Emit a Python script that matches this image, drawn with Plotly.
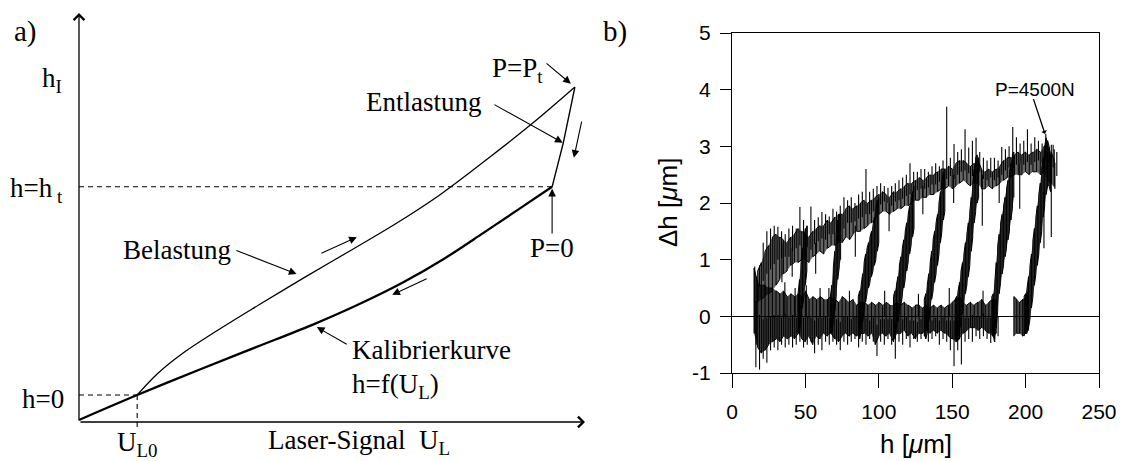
import plotly.graph_objects as go

W, H = 1121, 461

# ---------------- panel a: schematic calibration loop (arbitrary units) ----------------
kal_u = [0.0, 1.15, 2.4, 3.5, 4.6, 5.5, 6.4, 7.2, 8.0, 8.7, 9.35]            # Kalibrierkurve
kal_h = [0.05, 0.66, 1.29, 1.83, 2.37, 2.86, 3.41, 3.98, 4.63, 5.21, 5.75]
bel_u = [1.15, 1.55, 2.05, 2.75, 3.55, 4.45, 5.35, 6.25, 7.15, 8.05, 8.95, 9.80]  # Belastung
bel_h = [0.66, 1.18, 1.68, 2.25, 2.86, 3.53, 4.18, 4.84, 5.57, 6.41, 7.29, 8.19]
ent_u = [9.80, 9.57, 9.35]                                                    # Entlastung
ent_h = [8.19, 6.82, 5.75]

u_l0, h_0 = kal_u[1], kal_h[1]
u_t, h_t = kal_u[-1], kal_h[-1]

# ---------------- panel b: measured deviation dh vs h ----------------
# lower branch (dh ~ 0): band limits every 2.5 um, plus downward noise peaks
base_h = [15 + 2.5 * i for i in range(67)]
base_lo = [-0.3, -0.55, -0.65, -0.6, -0.5, -0.45, -0.4, -0.45, -0.35, -0.4,
           -0.35, -0.4, -0.3, -0.4, -0.45, -0.35, -0.5, -0.35, -0.4, -0.3,
           -0.35, -0.3, -0.4, -0.45, -0.35, -0.3, -0.35, -0.3, -0.35, -0.3,
           -0.3, -0.35, -0.3, -0.5, -0.35, -0.3, -0.35, -0.3, -0.45, -0.3,
           -0.3, -0.25, -0.35, -0.3, -0.4, -0.3, -0.3, -0.25, -0.3, -0.25,
           -0.3, -0.25, -0.3, -0.35, -0.4, -0.45, -0.4, -0.3, -0.25, -0.2,
           -0.2, -0.25, -0.2, -0.25, -0.3, -0.35, -0.3]
base_hi = [0.85, 0.6, 0.55, 0.55, 0.5, 0.5, 0.45, 0.4, 0.45, 0.35,
           0.4, 0.35, 0.4, 0.35, 0.45, 0.3, 0.35, 0.3, 0.35, 0.3,
           0.3, 0.35, 0.3, 0.25, 0.35, 0.3, 0.25, 0.3, 0.2, 0.25,
           0.25, 0.2, 0.25, 0.2, 0.25, 0.2, 0.25, 0.2, 0.2, 0.25,
           0.2, 0.25, 0.2, 0.15, 0.2, 0.2, 0.15, 0.2, 0.15, 0.2,
           0.15, 0.2, 0.15, 0.2, 0.25, 0.3, 0.35, 0.25, 0.2, 0.25,
           0.2, 0.25, 0.3, 0.2, 0.25, 0.3, 0.3]
base_pk = [-0.9, -0.94, -0.75, -0.82, -0.6, -0.55, -0.6, -0.5, -0.55, -0.5,
           -0.55, -0.5, -0.45, -0.55, -0.5, -0.45, -0.65, -0.5, -0.6, -0.45,
           -0.5, -0.45, -0.5, -0.6, -0.45, -0.5, -0.45, -0.4, -0.55, -0.45,
           -0.5, -0.4, -0.45, -0.7, -0.45, -0.5, -0.4, -0.5, -0.75, -0.45,
           -0.5, -0.4, -0.55, -0.4, -0.45, -0.4, -0.35, -0.45, -0.4, -0.35,
           -0.5, -0.4, -0.45, -0.6, -0.88, -0.6, -0.85, -0.45, -0.4, -0.45,
           -0.35, -0.4, -0.35, -0.4, -0.47, -0.45, -0.35]

foot_h = [192, 194, 196, 198, 200, 202]
foot_lo = [-0.35, -0.3, -0.3, -0.35, -0.3, -0.25]
foot_hi = [0.35, 0.3, 0.25, 0.3, 0.35, 0.45]

# upper branch (loading): band limits every 2.5 um, plus upward noise peaks
top_h = [17.5 + 2.5 * i for i in range(82)]
top_lo = [0.25, 0.3, 0.35, 0.4, 0.45, 0.55, 0.65, 0.75, 0.8, 0.9,
          0.95, 0.95, 1.0, 1.0, 0.95, 1.05, 1.1, 1.15, 1.1, 1.2,
          1.25, 1.25, 1.3, 1.3, 1.4, 1.35, 1.45, 1.5, 1.5, 1.55,
          1.6, 1.65, 1.7, 1.8, 1.85, 1.85, 1.8, 1.85, 1.9, 1.9,
          1.95, 1.95, 2.0, 2.05, 2.05, 2.1, 2.1, 2.15, 2.15, 2.2,
          2.25, 2.25, 2.3, 2.25, 2.3, 2.35, 2.4, 2.35, 2.3, 2.35,
          2.35, 2.25, 2.25, 2.3, 2.25, 2.3, 2.35, 2.4, 2.45, 2.45,
          2.5, 2.5, 2.5, 2.55, 2.5, 2.55, 2.55, 2.5, 2.55, 2.4,
          2.35, 2.25]
top_hi = [0.8, 0.95, 1.15, 1.25, 1.4, 1.45, 1.4, 1.35, 1.3, 1.4,
          1.45, 1.55, 1.5, 1.45, 1.4, 1.5, 1.55, 1.6, 1.6, 1.7,
          1.65, 1.75, 1.8, 1.8, 1.9, 1.95, 1.9, 1.95, 2.0, 2.05,
          2.0, 2.05, 2.1, 2.15, 2.2, 2.15, 2.1, 2.2, 2.2, 2.25,
          2.3, 2.35, 2.35, 2.4, 2.45, 2.4, 2.45, 2.5, 2.5, 2.55,
          2.6, 2.6, 2.65, 2.6, 2.7, 2.75, 2.75, 2.7, 2.65, 2.7,
          2.75, 2.6, 2.55, 2.6, 2.55, 2.6, 2.65, 2.75, 2.8, 2.8,
          2.85, 2.9, 2.85, 2.9, 2.85, 2.9, 2.95, 2.9, 3.0, 3.0,
          2.9, 2.7]
top_pk = [0.9, 1.3, 1.5, 1.55, 1.6, 1.58, 1.5, 1.45, 1.55, 1.6,
          1.55, 1.93, 1.7, 1.6, 1.94, 1.7, 1.75, 1.84, 1.8, 1.76,
          1.9, 1.85, 1.95, 2.1, 2.05, 2.1, 2.0, 2.15, 2.2, 2.6,
          2.2, 2.25, 2.3, 2.35, 2.3, 2.27, 2.3, 2.35, 2.4, 2.45,
          2.5, 2.7, 2.55, 2.55, 2.6, 2.6, 2.55, 2.65, 2.7, 2.65,
          2.75, 3.7, 2.8, 3.04, 2.9, 2.95, 3.3, 2.98, 3.1, 3.15,
          2.9, 2.8, 2.75, 2.8, 2.8, 2.75, 2.99, 2.95, 3.0, 3.34,
          3.16, 3.05, 3.1, 3.3, 3.05, 3.16, 3.1, 3.05, 3.22, 2.98,
          3.03, 2.9]

# unloading branches (steep flanks), h in um with dh band limits
br_h = {
    "A": [199, 200, 201, 202, 203, 204, 205, 206, 207, 208, 209, 210, 211, 212, 213, 214, 215, 216, 217],
    "B": [177, 178, 179, 180, 181, 182, 183, 184, 185, 186, 187, 188, 189, 190, 191, 192],
    "C": [152, 153, 154, 155, 156, 157, 158, 159, 160, 161, 162, 163, 164, 165, 166, 167, 168],
    "D": [131, 132, 133, 134, 135, 136, 137, 138, 139, 140, 141, 142, 143, 144, 145],
    "E": [110, 111, 112, 113, 114, 115, 116, 117, 118, 119, 120, 121, 122, 123, 124],
    "F": [86, 87, 88, 89, 90, 91, 92, 93, 94, 95, 96, 97, 98, 99, 100],
    "G": [67, 68, 69, 70, 71, 72, 73, 74],
    "H": [45, 46, 47, 48, 49, 50, 51],
}
br_lo = {
    "A": [-0.35, -0.3, -0.3, -0.2, -0.05, 0.15, 0.35, 0.55, 0.75, 0.9, 1.1, 1.3, 1.5, 1.75, 1.95, 2.15, 2.3, 2.3, 2.2],
    "B": [-0.3, -0.35, -0.45, -0.2, 0.1, 0.4, 0.6, 0.75, 0.9, 1.05, 1.2, 1.35, 1.5, 1.7, 1.9, 2.1],
    "C": [-0.4, -0.45, -0.4, -0.25, -0.1, 0.05, 0.25, 0.4, 0.55, 0.7, 0.9, 1.15, 1.4, 1.65, 1.85, 2.0, 2.1],
    "D": [-0.35, -0.4, -0.3, -0.1, 0.1, 0.3, 0.45, 0.6, 0.75, 0.9, 1.1, 1.3, 1.5, 1.7, 1.85],
    "E": [-0.35, -0.4, -0.25, -0.1, 0.05, 0.2, 0.35, 0.5, 0.65, 0.8, 0.95, 1.1, 1.25, 1.4, 1.55],
    "F": [-0.35, -0.4, -0.25, -0.1, 0.1, 0.25, 0.4, 0.5, 0.6, 0.7, 0.8, 0.9, 1.0, 1.15, 1.3],
    "G": [-0.3, -0.3, -0.1, 0.1, 0.35, 0.65, 0.85, 1.0],
    "H": [-0.3, -0.3, -0.05, 0.15, 0.35, 0.55, 0.8],
}
br_hi = {
    "A": [0.35, 0.4, 0.5, 0.7, 0.9, 1.1, 1.35, 1.55, 1.75, 1.95, 2.15, 2.35, 2.6, 2.8, 3.0, 3.15, 3.1, 3.0, 2.85],
    "B": [0.35, 0.4, 0.6, 0.95, 1.25, 1.45, 1.65, 1.8, 1.95, 2.1, 2.25, 2.4, 2.55, 2.7, 2.85, 2.9],
    "C": [0.3, 0.35, 0.45, 0.6, 0.8, 0.95, 1.1, 1.3, 1.45, 1.65, 1.85, 2.1, 2.35, 2.6, 2.8, 2.85, 2.8],
    "D": [0.3, 0.4, 0.55, 0.75, 0.95, 1.15, 1.35, 1.5, 1.65, 1.8, 2.0, 2.2, 2.4, 2.55, 2.6],
    "E": [0.35, 0.45, 0.55, 0.7, 0.9, 1.05, 1.2, 1.35, 1.5, 1.65, 1.8, 1.95, 2.1, 2.2, 2.3],
    "F": [0.35, 0.45, 0.55, 0.75, 0.95, 1.1, 1.2, 1.3, 1.4, 1.5, 1.6, 1.75, 1.9, 2.05, 2.1],
    "G": [0.35, 0.55, 0.85, 1.15, 1.45, 1.7, 1.8, 1.8],
    "H": [0.4, 0.65, 0.95, 1.2, 1.4, 1.55, 1.6],
}

# further isolated strokes: (h, dh_low, dh_high)
strokes = [
    (15.5, -0.3, 0.88), (16.5, -0.5, 0.7),
    (36, 0.0, 0.6), (43, 0.0, 0.5), (50.6, 0.0, 0.55), (60, 0.0, 0.5), (66, 0.0, 0.5),
    (80, 0.0, 0.45), (104, 0.0, 0.45), (127, 0.0, 0.4), (148, 0.0, 0.5), (171, 0.0, 0.45),
    (34, 0.6, 1.3), (41, 0.7, 1.2), (57, 0.75, 1.3), (84, 1.05, 1.6), (107, 1.5, 2.0),
    (130, 1.8, 2.3), (151, 2.0, 2.5), (170.5, 1.6, 2.5), (182, 2.0, 2.6), (196, 1.9, 2.7),
    (217.5, 1.4, 3.03), (219.5, 2.3, 2.95), (212.5, 1.2, 2.2),
]

peak_h, peak_dh = 213.2, 3.22   # P = 4500 N

x_ticks = [0, 50, 100, 150, 200, 250]
y_ticks = [-1, 0, 1, 2, 3, 4, 5]
y_ticktext = ["-1", "0", "1", "2", "3", "4", "5"]

# ---------------- figure ----------------
fig = go.Figure()
INK = "black"


def band(h, lo, hi, fillcol="rgba(0,0,0,0.65)", width=1.0):
    fig.add_trace(go.Scatter(x=list(h) + list(h)[::-1], y=list(lo) + list(hi)[::-1],
                             fill="toself", fillcolor=fillcol, mode="none",
                             xaxis="x", yaxis="y", hoverinfo="skip"))
    xs, ys = [], []
    for i, (x, a, b) in enumerate(zip(h, lo, hi)):
        xs += [x, x]
        ys += [a, b] if i % 2 == 0 else [b, a]
    fig.add_trace(go.Scatter(x=xs, y=ys, mode="lines", line=dict(color=INK, width=width),
                             xaxis="x", yaxis="y", hoverinfo="skip"))


def peaks(h, lo, hi, pk, shift=1.25, width=1.1):
    xs, ys = [], []
    for x, a, b, p in zip(h, lo, hi, pk):
        xs += [x + shift, x + shift, None]
        ys += [0.5 * (a + b), p, None]
    fig.add_trace(go.Scatter(x=xs, y=ys, mode="lines", line=dict(color=INK, width=width),
                             xaxis="x", yaxis="y", hoverinfo="skip"))


band(base_h, base_lo, base_hi, fillcol="rgba(0,0,0,0.72)")
peaks(base_h, base_lo, base_hi, base_pk)
band(foot_h, foot_lo, foot_hi, fillcol="rgba(0,0,0,0.72)")
band(top_h, top_lo, top_hi, fillcol="rgba(0,0,0,0.6)")
peaks(top_h, top_lo, top_hi, top_pk)
for k in br_h:
    band(br_h[k], br_lo[k], br_hi[k], fillcol="rgba(0,0,0,0.75)")

sx, sy = [], []
for h, a, b in strokes:
    sx += [h, h, None]
    sy += [a, b, None]
fig.add_trace(go.Scatter(x=sx, y=sy, mode="lines", line=dict(color=INK, width=1.1),
                         xaxis="x", yaxis="y", hoverinfo="skip"))

# panel a curves
fig.add_trace(go.Scatter(x=kal_u, y=kal_h, mode="lines",
                         line=dict(color=INK, width=2.3, shape="spline", smoothing=1.0),
                         xaxis="x2", yaxis="y2", hoverinfo="skip"))
fig.add_trace(go.Scatter(x=bel_u, y=bel_h, mode="lines",
                         line=dict(color=INK, width=1.3, shape="spline", smoothing=1.0),
                         xaxis="x2", yaxis="y2", hoverinfo="skip"))
fig.add_trace(go.Scatter(x=ent_u, y=ent_h, mode="lines", line=dict(color=INK, width=1.4),
                         xaxis="x2", yaxis="y2", hoverinfo="skip"))
# dashed reference lines
dash = dict(color=INK, width=1.1, dash="5px,4px")
fig.add_trace(go.Scatter(x=[0, u_t], y=[h_t, h_t], mode="lines", line=dash, xaxis="x2", yaxis="y2", hoverinfo="skip"))
fig.add_trace(go.Scatter(x=[0, u_l0], y=[h_0, h_0], mode="lines", line=dash, xaxis="x2", yaxis="y2", hoverinfo="skip"))
fig.add_trace(go.Scatter(x=[u_l0, u_l0], y=[h_0, -0.2], mode="lines", line=dash, xaxis="x2", yaxis="y2", hoverinfo="skip"))

# ---------------- axes ----------------
# panel a: 10 units span these pixel positions
AX0, AX10 = 79, 585      # U = 0 and U = 10
AY0, AY10 = 422, 13      # h = 0 and h = 10
sx_a = (AX10 - AX0) / 10.0
sy_a = (AY0 - AY10) / 10.0
xr_a = [-0.2, 10.2]
yr_a = [-0.5, 10.2]
xa_dom = [(AX0 + xr_a[0] * sx_a) / W, (AX0 + xr_a[1] * sx_a) / W]
ya_dom = [1 - (AY0 - yr_a[0] * sy_a) / H, 1 - (AY0 - yr_a[1] * sy_a) / H]

# panel b pixel box
BX0, BX1, BY0, BY1 = 732, 1099, 373, 33

sans = "Liberation Sans, Arial, sans-serif"
serif = "Liberation Serif, Times New Roman, serif"

fig.update_layout(
    template="none",
    width=W, height=H, margin=dict(l=0, r=0, t=0, b=0, pad=0, autoexpand=False),
    paper_bgcolor="white", plot_bgcolor="white", showlegend=False,
    xaxis=dict(domain=[BX0 / W, BX1 / W], range=[0, 250], anchor="y", automargin=False,
               showline=True, mirror=True, linecolor=INK, linewidth=1.4,
               ticks="outside", ticklen=14, tickwidth=1.4, tickcolor=INK,
               tickvals=x_ticks, showgrid=False, zeroline=False,
               tickfont=dict(family=sans, size=21, color=INK), ticklabelstandoff=6),
    yaxis=dict(domain=[1 - BY0 / H, 1 - BY1 / H], range=[-1, 5], anchor="x", automargin=False,
               showline=True, mirror=True, linecolor=INK, linewidth=1.4,
               ticks="outside", ticklen=11, tickwidth=1.4, tickcolor=INK,
               tickvals=y_ticks, ticktext=y_ticktext, showgrid=False,
               zeroline=True, zerolinecolor=INK, zerolinewidth=1.1,
               tickfont=dict(family=sans, size=21, color=INK), ticklabelstandoff=5),
    xaxis2=dict(domain=xa_dom, range=xr_a, anchor="y2", visible=False, automargin=False),
    yaxis2=dict(domain=ya_dom, range=yr_a, anchor="x2", visible=False, automargin=False),
)

ann = []


def px(x, y):
    return x / W, 1 - y / H


def txt(text, x, y, size=27, xanchor="center", yanchor="middle", ref="2", family=serif):
    d = dict(text=text, x=x, y=y, showarrow=False, xanchor=xanchor, yanchor=yanchor,
             font=dict(family=family, size=size, color=INK))
    if ref == "paper":
        d.update(xref="paper", yref="paper")
    elif ref == "1":
        d.update(xref="x", yref="y")
    else:
        d.update(xref="x2", yref="y2")
    ann.append(d)


def arrow(tail, head, head_style=2, size=1.4, width=1.1, ref="2"):
    xr, yr = ("x", "y") if ref == "1" else ("x2", "y2")
    ann.append(dict(x=head[0], y=head[1], ax=tail[0], ay=tail[1], xref=xr, yref=yr,
                    axref=xr, ayref=yr, text="", showarrow=True, arrowhead=head_style,
                    arrowsize=size, arrowwidth=width, arrowcolor=INK, standoff=0, startstandoff=0))


# panel a axes with arrow tips
arrow((0, 0), (10, 0), head_style=4, size=1.6, width=1.3)
arrow((0, 0), (0, 10), head_style=4, size=1.6, width=1.3)

# labels outside the schematic's axes (paper positions)
txt("a)", *px(25, 32), size=29, ref="paper")
txt("h<sub>I</sub>", *px(52, 80), ref="paper")
txt("h=h<sub> t</sub>", *px(65, 190), xanchor="right", ref="paper")
txt("h=0", *px(66, 399), xanchor="right", ref="paper")
txt("U<sub>L0</sub>", *px(137, 444), ref="paper")
txt("Laser-Signal\u00a0\u00a0U<sub>L</sub>", *px(359, 442), ref="paper")

# labels inside
txt("Belastung", 1.94, 4.2)
txt("Entlastung", 6.82, 7.82)
txt("P=P<sub>t</sub>", 8.66, 8.6)
txt("P=0", 9.35, 4.25)
txt("Kalibrierkurve", 6.96, 1.76)
txt("h=f(U<sub>L</sub>)", 5.36, 0.88, xanchor="left")

# pointer arrows
arrow((9.21, 8.80), (9.72, 8.27))          # P=Pt
arrow((8.18, 7.78), (9.56, 6.83))          # Entlastung
arrow((3.08, 4.21), (4.30, 3.62))          # Belastung
arrow((u_t, 4.57), (u_t, h_t - 0.05))      # P=0
arrow((5.32, 1.88), (4.70, 2.32))          # Kalibrierkurve
# direction of travel
arrow((4.76, 4.11), (5.49, 4.52))
arrow((6.90, 3.52), (6.19, 3.11))
arrow((9.94, 7.38), (9.78, 6.46))

# panel b labels
txt("b)", *px(615, 32), size=29, ref="paper")
txt("h [<i>\u03bc</i>m]", *px(0.5 * (BX0 + BX1), 444), size=26, ref="paper", family=sans)
ann.append(dict(text="\u0394h [<i>\u03bc</i>m]", x=668 / W, y=1 - 203 / H, xref="paper", yref="paper",
                showarrow=False, textangle=-90, font=dict(family=sans, size=26, color=INK)))
txt("P=4500N", 206.4, 4.0, size=19, ref="1", family=sans)
arrow((205.0, 3.86), (peak_h, peak_dh), head_style=1, size=0.8, width=1.3, ref="1")

fig.update_layout(annotations=ann)
fig.write_html("out.html")
